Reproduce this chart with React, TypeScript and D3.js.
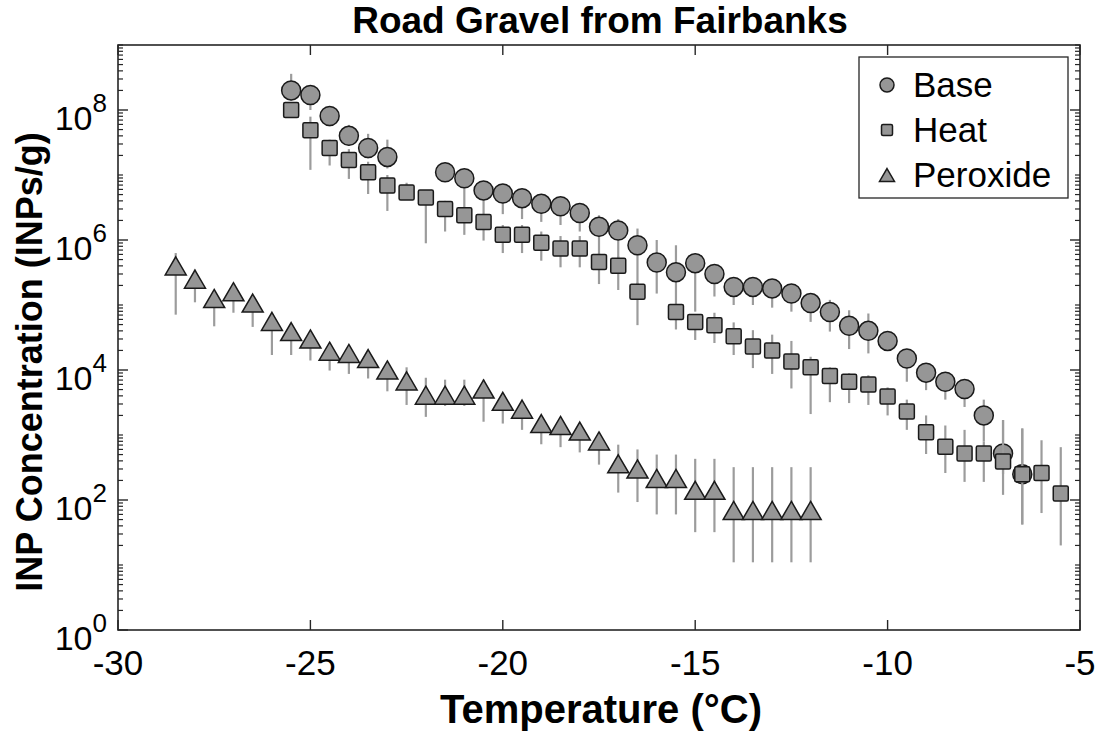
import React from "react";
import * as d3 from "d3";

// ---------- data ----------
const baseTemps = [-25.5, -25, -24.5, -24, -23.5, -23, -21.5, -21, -20.5, -20, -19.5, -19, -18.5, -18, -17.5, -17, -16.5, -16, -15.5, -15, -14.5, -14, -13.5, -13, -12.5, -12, -11.5, -11, -10.5, -10, -9.5, -9, -8.5, -8, -7.5, -7, -6.5];
const baseValues = [2.0e8, 1.7e8, 8.1e7, 4.0e7, 2.6e7, 1.9e7, 1.1e7, 8.9e6, 5.8e6, 5.2e6, 4.4e6, 3.6e6, 3.3e6, 2.6e6, 1.6e6, 1.4e6, 8.3e5, 4.5e5, 3.2e5, 4.4e5, 3.0e5, 1.9e5, 1.9e5, 1.8e5, 1.5e5, 1.07e5, 7.8e4, 4.8e4, 4.0e4, 2.8e4, 1.5e4, 9.1e3, 6.6e3, 5.1e3, 2.0e3, 520, 250];
const baseUpper = [3.6e8, 2.4e8, 1.0e8, 5.9e7, 4.3e7, 3.5e7, 1.26e7, 1.0e7, 7.1e6, 6.0e6, 5.0e6, 4.2e6, 3.8e6, 3.0e6, 2.4e6, 2.1e6, 1.5e6, 1.0e6, 8.3e5, 5.6e5, 3.5e5, 2.4e5, 2.4e5, 2.2e5, 1.9e5, 1.5e5, 1.2e5, 8.3e4, 7.4e4, 3.5e4, 2.0e4, 1.1e4, 8.3e3, 6.3e3, 3.5e3, 1.7e3, 1.26e3];
const baseLower = [1.4e8, 1.0e8, 5.6e7, 2.8e7, 1.8e7, 1.26e7, 8.9e6, 2.6e6, 2.0e6, 2.5e6, 2.1e6, 1.9e6, 1.7e6, 1.35e6, 5.6e5, 5.0e5, 2.0e5, 1.5e5, 1.0e5, 7.9e4, 1.35e5, 1.0e5, 1.0e5, 9.1e4, 7.9e4, 5.5e4, 3.9e4, 2.1e4, 1.8e4, 2.0e4, 6.6e3, 4.9e3, 3.5e3, 2.7e3, 790, 250, 42];

const heatTemps = [-25.5, -25, -24.5, -24, -23.5, -23, -22.5, -22, -21.5, -21, -20.5, -20, -19.5, -19, -18.5, -18, -17.5, -17, -16.5, -15.5, -15, -14.5, -14, -13.5, -13, -12.5, -12, -11.5, -11, -10.5, -10, -9.5, -9, -8.5, -8, -7.5, -7, -6.5, -6, -5.5];
const heatValues = [1.0e8, 4.9e7, 2.6e7, 1.7e7, 1.1e7, 6.9e6, 5.4e6, 4.5e6, 3.0e6, 2.4e6, 1.9e6, 1.2e6, 1.2e6, 9.1e5, 7.4e5, 7.4e5, 4.6e5, 4.0e5, 1.6e5, 7.8e4, 5.5e4, 4.9e4, 3.3e4, 2.3e4, 2.0e4, 1.35e4, 1.1e4, 8.1e3, 6.6e3, 6.0e3, 3.9e3, 2.3e3, 1.1e3, 660, 520, 520, 390, 250, 260, 126];
const heatUpper = [1.26e8, 7.9e7, 3.5e7, 2.5e7, 1.6e7, 1.0e7, 7.6e6, 5.6e6, 4.0e6, 3.2e6, 2.5e6, 1.7e6, 1.7e6, 1.35e6, 1.15e6, 1.15e6, 6.3e5, 5.6e5, 2.2e5, 1.0e5, 7.1e4, 7.6e4, 5.4e4, 4.1e4, 3.5e4, 2.8e4, 1.6e4, 1.1e4, 8.9e3, 8.3e3, 5.4e3, 3.5e3, 2.0e3, 1.4e3, 1.2e3, 790, 1.7e3, 1.26e3, 830, 650];
const heatLower = [7.9e7, 1.2e7, 1.4e7, 8.7e6, 5.1e6, 2.8e6, 4.2e6, 8.9e5, 1.35e6, 1.2e6, 9.8e5, 6.3e5, 6.3e5, 4.8e5, 3.8e5, 3.8e5, 2.1e5, 1.7e5, 4.9e4, 4.2e4, 2.9e4, 2.6e4, 1.7e4, 1.07e4, 8.7e3, 5.2e3, 2.1e3, 3.2e3, 3.1e3, 2.9e3, 2.0e3, 1.2e3, 510, 260, 190, 190, 120, 42, 63, 20];

const peroxideTemps = [-28.5, -28, -27.5, -27, -26.5, -26, -25.5, -25, -24.5, -24, -23.5, -23, -22.5, -22, -21.5, -21, -20.5, -20, -19.5, -19, -18.5, -18, -17.5, -17, -16.5, -16, -15.5, -15, -14.5, -14, -13.5, -13, -12.5, -12];
const peroxideValues = [4.0e5, 2.5e5, 1.26e5, 1.6e5, 1.07e5, 5.6e4, 3.9e4, 3.0e4, 1.95e4, 1.8e4, 1.5e4, 1.0e4, 6.8e3, 4.1e3, 4.1e3, 4.1e3, 5.1e3, 3.3e3, 2.5e3, 1.5e3, 1.4e3, 1.15e3, 810, 360, 300, 214, 214, 141, 141, 69, 69, 69, 69, 69];
const peroxideUpper = [6.3e5, 3.5e5, 1.6e5, 2.0e5, 1.35e5, 7.1e4, 4.5e4, 3.5e4, 2.2e4, 2.1e4, 1.8e4, 1.2e4, 1.1e4, 7.6e3, 7.1e3, 7.1e3, 7.1e3, 4.0e3, 3.2e3, 1.8e3, 1.7e3, 1.4e3, 1.1e3, 710, 600, 500, 500, 430, 430, 320, 320, 320, 320, 320];
const peroxideLower = [7.1e4, 1.1e5, 4.7e4, 7.6e4, 4.6e4, 1.7e4, 1.7e4, 1.4e4, 9.8e3, 8.7e3, 7.4e3, 4.7e3, 2.9e3, 1.9e3, 2.8e3, 2.8e3, 1.6e3, 1.5e3, 1.2e3, 720, 650, 540, 350, 130, 93, 60, 60, 32, 32, 11, 11, 11, 11, 11];

const seriesNames = ["Base", "Heat", "Peroxide"];
const xTickValues = [-30, -25, -20, -15, -10, -5];
const yTickExponents = [0, 2, 4, 6, 8];
const titleText = "Road Gravel from Fairbanks";
const xLabelText = "Temperature (°C)";
const yLabelText = "INP Concentration (INPs/g)";

// ---------- layout / style ----------
const W = 1102, H = 735;
const L = 118, R = 1080, T = 45, B = 630;
const FONT = "'Liberation Sans', Arial, Helvetica, sans-serif";
const AX = "#262626";
const FILL = "#969696";
const ERR = "#9c9c9c";
const EDGE = "#1a1a1a";

type Shape = "circle" | "square" | "triangle";

function Marker({ shape, cx, cy, s }: { shape: Shape; cx: number; cy: number; s: number }) {
  if (shape === "circle") return <circle cx={cx} cy={cy} r={s / 2} fill={FILL} stroke={EDGE} strokeWidth={1.5} />;
  if (shape === "square")
    return <rect x={cx - s / 2} y={cy - s / 2} width={s} height={s} rx={1.5} fill={FILL} stroke={EDGE} strokeWidth={1.5} />;
  const w = s, h = s * 0.86;
  const p = `M${cx},${cy - h / 2} L${cx + w / 2},${cy + h / 2} L${cx - w / 2},${cy + h / 2} Z`;
  return <path d={p} fill={FILL} stroke={EDGE} strokeWidth={1.5} strokeLinejoin="miter" />;
}

export default function App() {
  const x = d3.scaleLinear().domain([-30, -5]).range([L, R]);
  const y = d3.scaleLog().domain([1, 1e9]).range([B, T]);

  const series = [
    { name: seriesNames[0], shape: "circle" as Shape, size: 19, t: baseTemps, v: baseValues, up: baseUpper, lo: baseLower },
    { name: seriesNames[1], shape: "square" as Shape, size: 15, t: heatTemps, v: heatValues, up: heatUpper, lo: heatLower },
    { name: seriesNames[2], shape: "triangle" as Shape, size: 21, t: peroxideTemps, v: peroxideValues, up: peroxideUpper, lo: peroxideLower },
  ];

  const minorTicks = y.ticks().filter((t) => !yTickExponents.some((e) => Math.abs(Math.log10(t) - e) < 1e-9));

  return (
    <svg width={W} height={H} style={{ position: "absolute", left: 0, top: 0, background: "#fff" }} fontFamily={FONT}>
      <rect x={0} y={0} width={W} height={H} fill="#fff" />
      {/* title */}
      <text x={(L + R) / 2 + 1} y={33} textAnchor="middle" fontWeight="bold" fontSize={37} fill="#000">{titleText}</text>

      {/* series */}
      {series.map((s) => (
        <g key={s.name}>
          {s.t.map((t, i) => (
            <line key={"e" + i} x1={x(t)} x2={x(t)} y1={y(s.up[i])} y2={y(s.lo[i])} stroke={ERR} strokeWidth={2.2} />
          ))}
          {s.t.map((t, i) => (
            <Marker key={"m" + i} shape={s.shape} cx={x(t)} cy={y(s.v[i])} s={s.size} />
          ))}
        </g>
      ))}

      {/* axes box */}
      <rect x={L} y={T} width={R - L} height={B - T} fill="none" stroke={AX} strokeWidth={1.6} />
      {xTickValues.map((t) => (
        <g key={"xt" + t}>
          <line x1={x(t)} x2={x(t)} y1={B} y2={B - 10} stroke={AX} strokeWidth={1.4} />
          <line x1={x(t)} x2={x(t)} y1={T} y2={T + 10} stroke={AX} strokeWidth={1.4} />
          <text x={x(t)} y={675} textAnchor="middle" fontSize={35} fill="#000">{t}</text>
        </g>
      ))}
      {yTickExponents.map((e) => (
        <g key={"yt" + e}>
          <line x1={L} x2={L + 10} y1={y(10 ** e)} y2={y(10 ** e)} stroke={AX} strokeWidth={1.4} />
          <line x1={R} x2={R - 10} y1={y(10 ** e)} y2={y(10 ** e)} stroke={AX} strokeWidth={1.4} />
          <text x={107} y={y(10 ** e) + 20} textAnchor="end" fontSize={34} fill="#000">
            10<tspan dy={-18} fontSize={26}>{e}</tspan>
          </text>
        </g>
      ))}
      {minorTicks.map((t, i) => (
        <g key={"mt" + i}>
          <line x1={L} x2={L + 5} y1={y(t)} y2={y(t)} stroke={AX} strokeWidth={1.2} />
          <line x1={R} x2={R - 5} y1={y(t)} y2={y(t)} stroke={AX} strokeWidth={1.2} />
        </g>
      ))}

      {/* axis labels */}
      <text x={(L + R) / 2 + 2} y={723} textAnchor="middle" fontWeight="bold" fontSize={40} fill="#000">{xLabelText}</text>
      <text transform={`translate(42,${362}) rotate(-90)`} textAnchor="middle" fontWeight="bold" fontSize={36} fill="#000">{yLabelText}</text>

      {/* legend */}
      <g>
        <rect x={859} y={57} width={209} height={141} fill="#fff" stroke={AX} strokeWidth={1.3} />
        {series.map((s, i) => {
          const cy = 85 + i * 45;
          return (
            <g key={"lg" + i}>
              <Marker shape={s.shape} cx={887} cy={cy} s={s.shape === "circle" ? 14 : s.shape === "square" ? 11 : 15} />
              <text x={913} y={cy + 12} fontSize={35} fill="#000">{s.name}</text>
            </g>
          );
        })}
      </g>
    </svg>
  );
}
